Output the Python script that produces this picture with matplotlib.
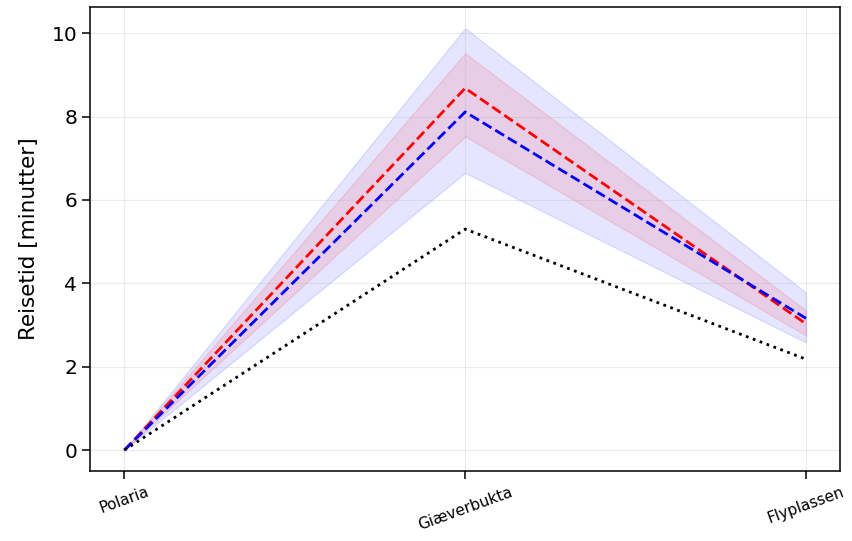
import numpy as np
import matplotlib.pyplot as plt

# stopp langs ruta
stopp = ['Polaria', 'Giæverbukta', 'Flyplassen']

# reisetid (minutter)
rod_snitt = [0.0, 8.68, 3.03]
rod_lav = [0.0, 7.52, 2.75]
rod_hoy = [0.0, 9.52, 3.35]

bla_snitt = [0.0, 8.11, 3.16]
bla_lav = [0.0, 6.65, 2.58]
bla_hoy = [0.0, 10.12, 3.78]

svart = [0.0, 5.3, 2.18]

x = np.arange(len(stopp))

fig, ax = plt.subplots(figsize=(8.52, 5.41), dpi=100)

ax.fill_between(x, bla_lav, bla_hoy, color='blue', alpha=0.1)
ax.fill_between(x, rod_lav, rod_hoy, color='red', alpha=0.1)
ax.plot(x, rod_snitt, color='red', linestyle='--', linewidth=2)
ax.plot(x, bla_snitt, color='blue', linestyle='--', linewidth=2)
ax.plot(x, svart, color='black', linestyle=':', linewidth=2)

ax.set_xticks(x)
ax.set_xticklabels(stopp, rotation=20, fontsize=11)
ax.set_ylabel('Reisetid [minutter]', fontsize=15.5, labelpad=9)
ax.tick_params(axis='y', labelsize=14.5)
ax.tick_params(length=6, width=1.1)
for s in ax.spines.values():
    s.set_linewidth(1.1)
ax.grid(True, alpha=0.25)

fig.subplots_adjust(left=0.106, right=0.986, top=0.987, bottom=0.129)
fig.savefig('out.png')
